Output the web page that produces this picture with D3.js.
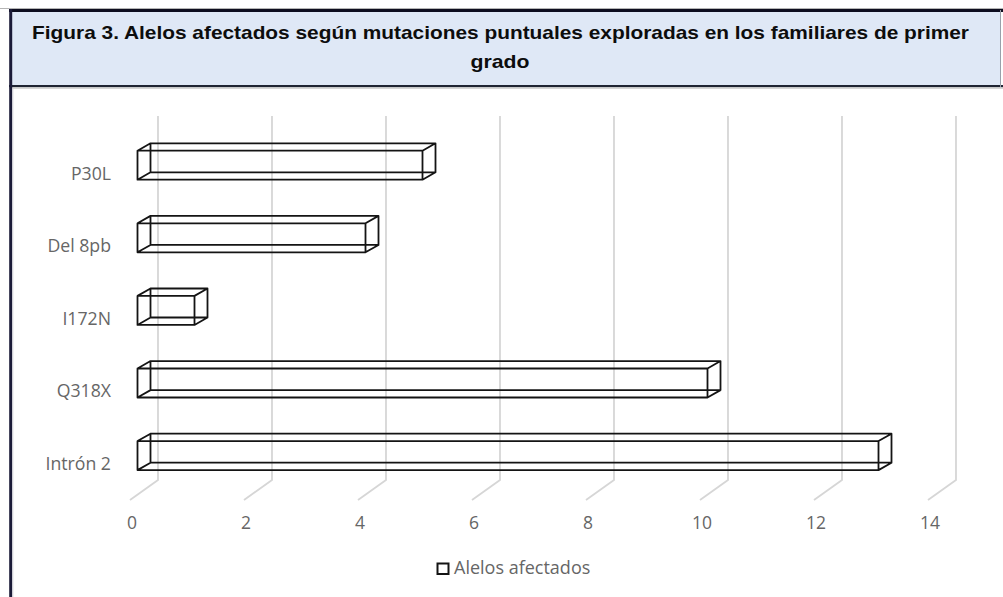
<!DOCTYPE html>
<html>
<head>
<meta charset="utf-8">
<script src="https://cdn.jsdelivr.net/npm/d3@7"></script>
<style>
  html, body { margin: 0; padding: 0; background: #fff; }
  svg { display: block; }
</style>
</head>
<body>
<svg id="chart" width="1003" height="597"></svg>
<script>
// ---- data ----
const categories = ["P30L", "Del 8pb", "I172N", "Q318X", "Intrón 2"];
const values = [5, 4, 1, 10, 13];
const xTicks = [0, 2, 4, 6, 8, 10, 12, 14];
const seriesName = "Alelos afectados";
const titleLines = [
  "Figura 3. Alelos afectados según mutaciones puntuales exploradas en los familiares de primer",
  "grado"
];

// ---- layout ----
const W = 1003, H = 597;
const svg = d3.select("#chart");

// frame / title box
svg.append("line").attr("x1", 0).attr("x2", W).attr("y1", 8.5).attr("y2", 8.5)
  .attr("stroke", "#b5b5b5").attr("stroke-width", 1);
svg.append("rect").attr("x", 10).attr("y", 10).attr("width", W - 12).attr("height", 75.5)
  .attr("fill", "#dfe8f6");
svg.append("line").attr("x1", 9).attr("x2", W).attr("y1", 10.5).attr("y2", 10.5)
  .attr("stroke", "#0d0d1f").attr("stroke-width", 3);
svg.append("line").attr("x1", 9).attr("x2", W).attr("y1", 86.2).attr("y2", 86.2)
  .attr("stroke", "#1f2433").attr("stroke-width", 2.2);
svg.append("line").attr("x1", 9).attr("x2", W).attr("y1", 88.2).attr("y2", 88.2)
  .attr("stroke", "#c8c8c8").attr("stroke-width", 1.2);
svg.append("line").attr("x1", 1000.5).attr("x2", 1000.5).attr("y1", 10).attr("y2", 87)
  .attr("stroke", "#9aa0aa").attr("stroke-width", 1);
svg.append("line").attr("x1", 10.7).attr("x2", 10.7).attr("y1", 9).attr("y2", H)
  .attr("stroke", "#1b1b38").attr("stroke-width", 3);
svg.append("line").attr("x1", 12.8).attr("x2", 12.8).attr("y1", 88).attr("y2", H)
  .attr("stroke", "#d0d0d8").attr("stroke-width", 1);

// title
const titleFont = "'Liberation Sans', Arial, sans-serif";
svg.append("text")
  .attr("x", 500.5).attr("y", 38.5)
  .attr("text-anchor", "middle")
  .attr("font-family", titleFont).attr("font-weight", "bold")
  .attr("font-size", "19px").attr("fill", "#0d0d0d")
  .text(titleLines[0])
  .attr("textLength", 937).attr("lengthAdjust", "spacingAndGlyphs");
svg.append("text")
  .attr("x", 500).attr("y", 68)
  .attr("text-anchor", "middle")
  .attr("font-family", titleFont).attr("font-weight", "bold")
  .attr("font-size", "19px").attr("fill", "#0d0d0d")
  .text(titleLines[1])
  .attr("textLength", 59).attr("lengthAdjust", "spacingAndGlyphs");

// ---- scales ----
const x = d3.scaleLinear().domain([0, 14]).range([130, 928]);
const y = d3.scaleBand().domain(categories).range([137, 500])
  .paddingInner(0.6).paddingOuter(0.3);
const depth = { dx: 28, dy: -20 };      // full 3D depth of the plot
const barOff = { dx: 7.5, dy: -8.1 };   // bar front face offset
const barDepth = { dx: 13, dy: -7.4 };  // bar depth

const labelFont = "'Open Sans', 'Noto Sans', sans-serif";
const gridColor = "#d6d6d6";

// gridlines (back wall + floor)
const grid = svg.append("g");
xTicks.forEach(v => {
  const xb = x(v) + depth.dx;
  grid.append("path")
    .attr("d", d3.line()([[xb, 116], [xb, 480], [x(v), 500]]))
    .attr("fill", "none").attr("stroke", gridColor).attr("stroke-width", 1.8);
});

// tick labels
svg.append("g").selectAll("text").data(xTicks).join("text")
  .attr("x", d => x(d) + 2).attr("y", 529)
  .attr("text-anchor", "middle")
  .attr("font-family", labelFont).attr("font-size", "17.5px").attr("fill", "#666")
  .text(d => d);

// category labels
svg.append("g").selectAll("text").data(categories).join("text")
  .attr("x", 111).attr("y", d => y(d) + y.bandwidth() / 2)
  .attr("dy", "0.36em")
  .attr("text-anchor", "end")
  .attr("font-family", labelFont).attr("font-size", "17.7px").attr("fill", "#666")
  .text(d => d);

// 3D wireframe bars
const bars = svg.append("g");
categories.forEach((c, i) => {
  const x0 = x(0) + barOff.dx, x1 = x(values[i]) + barOff.dx;
  const y0 = y(c) + barOff.dy, y1 = y0 + y.bandwidth();
  const bx = barDepth.dx, by = barDepth.dy;
  const p = d3.path();
  p.rect(x0, y0, x1 - x0, y1 - y0);
  p.rect(x0 + bx, y0 + by, x1 - x0, y1 - y0);
  [[x0, y0], [x1, y0], [x0, y1], [x1, y1]].forEach(([px, py]) => {
    p.moveTo(px, py); p.lineTo(px + bx, py + by);
  });
  bars.append("path").attr("d", p.toString())
    .attr("fill", "none").attr("stroke", "#141414")
    .attr("stroke-width", 1.8).attr("stroke-linejoin", "round");
});

// legend
const lg = svg.append("g");
lg.append("rect").attr("x", 437.5).attr("y", 563.5).attr("width", 11).attr("height", 10.5)
  .attr("fill", "#fff").attr("stroke", "#141414").attr("stroke-width", 2);
lg.append("text").attr("x", 454).attr("y", 573.5)
  .attr("font-family", labelFont).attr("font-size", "18px").attr("fill", "#666")
  .text(seriesName);
</script>
</body>
</html>
